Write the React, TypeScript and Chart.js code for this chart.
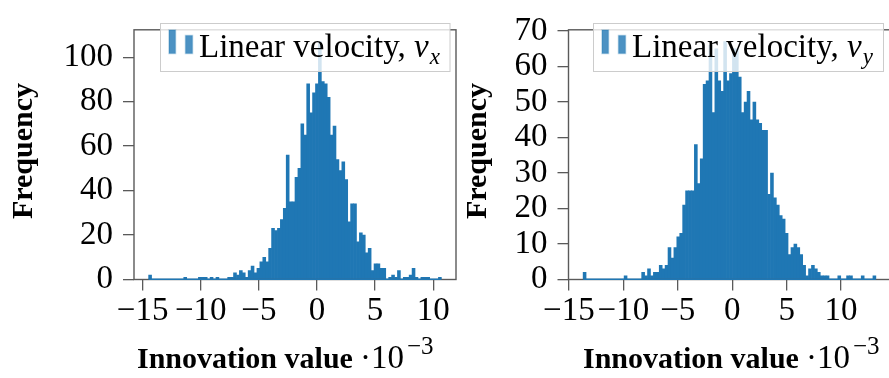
import React, { useEffect, useRef } from "react";
import { Chart, registerables } from "chart.js";

Chart.register(...registerables);

// ---------- data ----------
const VX_COUNTS = [
  2, 0, 0, 0, 0, 0, 0, 0, 0, 0,
  0, 0, 1, 0, 0, 0, 0, 1, 1, 1,
  0, 1, 0, 1, 0, 0, 0, 1, 1, 3,
  2, 4, 3, 1, 4, 6, 3, 5, 8, 10,
  8, 14, 23, 22, 23, 27, 32, 56, 35, 35,
  46, 50, 70, 65, 88, 75, 84, 88, 107, 89,
  88, 82, 65, 69, 54, 49, 53, 45, 26, 34,
  34, 17, 21, 20, 12, 14, 4, 7, 7, 5,
  5, 0, 1, 2, 1, 4, 0, 1, 1, 2,
  5, 1, 0, 1, 1, 1, 0, 0, 0, 1,
];
const VY_COUNTS = [
  2, 0, 0, 0, 0, 0, 0, 0, 0, 0,
  0, 0, 0, 0, 1, 0, 0, 0, 0, 0,
  2, 1, 3, 1, 2, 2, 4, 3, 4, 9,
  6, 9, 12, 13, 21, 25, 25, 25, 38, 27,
  34, 55, 56, 66, 47, 65, 56, 53, 67, 56,
  58, 65, 65, 57, 47, 50, 53, 45, 50, 45,
  44, 42, 42, 24, 30, 23, 21, 18, 17, 13,
  7, 9, 10, 9, 7, 4, 1, 3, 4, 3,
  2, 1, 1, 1, 0, 0, 0, 1, 0, 0,
  1, 1, 0, 0, 0, 1, 0, 0, 0, 1,
];
const VX_RANGE: [number, number] = [-14.48, 10.7];
const VY_RANGE: [number, number] = [-13.69, 13.19];
const X_TICKS = [-15, -10, -5, 0, 5, 10];
const VX_Y_TICKS = [0, 20, 40, 60, 80, 100];
const VY_Y_TICKS = [0, 10, 20, 30, 40, 50, 60, 70];
const Y_TITLE = "Frequency";
const X_TITLE = "Innovation value";
const X_SCALE_TEXT = "\u00b710";
const X_SCALE_EXP = "\u22123";
const LEGEND_TEXT = "Linear velocity, ";
const LEGEND_VAR = "v";
const VX_SUB = "x";
const VY_SUB = "y";

// ---------- styles / layout ----------
const FAMILY = '"Liberation Serif", "Times New Roman", serif';
const BLUE = "#1f77b4";
const AXIS = "#5a5a5a";
const W = 889;
const H = 378;
const PLOT_TOP = 17.5;
const PLOT_BOTTOM = 279.5;

type Spec = {
  counts: number[];
  range: [number, number];
  yTicks: number[];
  sub: string;
  canvasLeft: number;
  canvasWidth: number;
  plotLeft: number;
  plotRight: number;
  legend: [number, number, number, number];
  yTitleX: number;
  xTitleX: number;
};

const SPECS: Spec[] = [
  {
    counts: VX_COUNTS, range: VX_RANGE, yTicks: VX_Y_TICKS, sub: VX_SUB,
    canvasLeft: 0, canvasWidth: 462, plotLeft: 134, plotRight: 456,
    legend: [160.5, 23.5, 289.5, 48], yTitleX: 32, xTitleX: 137,
  },
  {
    counts: VY_COUNTS, range: VY_RANGE, yTicks: VY_Y_TICKS, sub: VY_SUB,
    canvasLeft: 462, canvasWidth: 436, plotLeft: 568.5, plotRight: 890.5,
    legend: [593.5, 23.5, 290, 48], yTitleX: 486, xTitleX: 583,
  },
];

const fmt = (v: number) => (v < 0 ? "\u2212" + Math.abs(v) : String(v));

function makeChart(canvas: HTMLCanvasElement, s: Spec) {
  const n = s.counts.length;
  const bw = (s.range[1] - s.range[0]) / n;
  const points = s.counts.map((c, i) => ({ x: s.range[0] + (i + 0.5) * bw, y: c }));
  const R = s.range[1] - s.range[0];
  const xMin = s.range[0] - 0.05 * R;
  const xMax = s.range[1] + 0.05 * R;
  const yMax = Math.max(...s.counts) * 1.05;
  const off = s.canvasLeft;

  const decor = {
    id: "decor" + off,
    afterDatasetsDraw(chart: any) {
      const { ctx, chartArea: a, scales } = chart;
      const x = scales.x;
      const y = scales.y;
      ctx.save();
      ctx.strokeStyle = AXIS;
      ctx.lineWidth = 1.4;
      ctx.strokeRect(a.left, a.top, a.right - a.left, a.bottom - a.top);
      const y0 = y.getPixelForValue(0);
      ctx.strokeStyle = BLUE;
      ctx.lineWidth = 1.4;
      ctx.beginPath();
      ctx.moveTo(x.getPixelForValue(s.range[0]), y0 - 0.3);
      ctx.lineTo(x.getPixelForValue(s.range[1]), y0 - 0.3);
      ctx.stroke();
      ctx.restore();
    },
    afterDraw(chart: any) {
      const { ctx } = chart;
      ctx.save();
      const [lx0, ly, lw, lh] = s.legend;
      const lx = lx0 - off;
      ctx.fillStyle = "rgba(255,255,255,0.8)";
      ctx.fillRect(lx, ly, lw, lh);
      ctx.strokeStyle = "#cccccc";
      ctx.lineWidth = 1;
      ctx.strokeRect(lx, ly, lw, lh);
      ctx.fillStyle = "rgba(31,119,180,0.8)";
      ctx.strokeStyle = "rgba(31,119,180,0.3)";
      ctx.lineWidth = 1.5;
      ctx.fillRect(lx + 8.5, ly + 6.5, 6.5, 23.5);
      ctx.strokeRect(lx + 8.5, ly + 6.5, 6.5, 23.5);
      ctx.fillRect(lx + 25, ly + 12, 7, 18);
      ctx.strokeRect(lx + 25, ly + 12, 7, 18);
      ctx.fillStyle = "#000";
      ctx.textBaseline = "alphabetic";
      ctx.textAlign = "left";
      let tx = lx + 38.5;
      const ty = ly + 33.5;
      ctx.font = `33px ${FAMILY}`;
      ctx.fillText(LEGEND_TEXT, tx, ty);
      tx += ctx.measureText(LEGEND_TEXT).width;
      ctx.font = `italic 33px ${FAMILY}`;
      ctx.fillText(LEGEND_VAR, tx, ty);
      tx += ctx.measureText(LEGEND_VAR).width + 1;
      ctx.font = `italic 23px ${FAMILY}`;
      ctx.fillText(s.sub, tx, ty + 6.5);

      ctx.save();
      ctx.translate(s.yTitleX - off, 151);
      ctx.rotate(-Math.PI / 2);
      ctx.font = `bold 30px ${FAMILY}`;
      ctx.textAlign = "center";
      ctx.fillText(Y_TITLE, 0, 0);
      ctx.restore();

      let xx = s.xTitleX - off;
      const xb = 368;
      ctx.font = `bold 30px ${FAMILY}`;
      ctx.fillText(X_TITLE, xx, xb);
      xx += ctx.measureText(X_TITLE).width + 7;
      ctx.font = `33px ${FAMILY}`;
      ctx.fillText(X_SCALE_TEXT, xx, xb);
      xx += ctx.measureText(X_SCALE_TEXT).width + 3;
      ctx.font = `25px ${FAMILY}`;
      ctx.fillText(X_SCALE_EXP, xx, xb - 14);
      ctx.restore();
    },
  };

  const tickFont = { family: FAMILY, size: 33 };
  const grid = {
    display: true,
    drawOnChartArea: false,
    drawTicks: true,
    tickLength: 11,
    color: AXIS,
    lineWidth: 1.3,
    offset: false,
  };

  return new Chart(canvas, {
    type: "bar",
    data: {
      datasets: [
        {
          data: points as any,
          backgroundColor: BLUE,
          borderWidth: 0,
          barPercentage: 1,
          categoryPercentage: 1,
        },
      ],
    },
    options: {
      animation: false,
      responsive: false,
      maintainAspectRatio: false,
      events: [],
      layout: {
        padding: {
          top: PLOT_TOP,
          left: 0,
          bottom: 0,
          right: s.canvasWidth - (s.plotRight - off),
        },
      },
      plugins: { legend: { display: false }, tooltip: { enabled: false } },
      scales: {
        x: {
          type: "linear",
          min: xMin,
          max: xMax,
          offset: false,
          grid: grid as any,
          border: { display: false },
          ticks: {
            font: tickFont,
            color: "#000",
            padding: 1,
            autoSkip: false,
            maxRotation: 0,
            callback: (v: any) => fmt(Number(v)),
          },
          afterBuildTicks: (sc: any) => {
            sc.ticks = X_TICKS.map((v) => ({ value: v }));
          },
          afterFit: (sc: any) => {
            sc.height = H - PLOT_BOTTOM;
          },
        },
        y: {
          type: "linear",
          min: 0,
          max: yMax,
          grid: grid as any,
          border: { display: false },
          ticks: {
            font: tickFont,
            color: "#000",
            padding: 10,
            autoSkip: false,
            callback: (v: any) => fmt(Number(v)),
          },
          afterBuildTicks: (sc: any) => {
            sc.ticks = s.yTicks.map((v) => ({ value: v }));
          },
          afterFit: (sc: any) => {
            sc.width = s.plotLeft - off;
          },
        },
      },
    } as any,
    plugins: [decor],
  });
}

function Hist({ spec }: { spec: Spec }) {
  const ref = useRef<HTMLCanvasElement | null>(null);
  useEffect(() => {
    if (!ref.current) return;
    const c = makeChart(ref.current, spec);
    return () => c.destroy();
  }, [spec]);
  return (
    <canvas
      ref={ref}
      width={spec.canvasWidth}
      height={H}
      style={{
        position: "absolute",
        left: spec.canvasLeft,
        top: 0,
        width: spec.canvasWidth,
        height: H,
      }}
    />
  );
}

export default function App() {
  return (
    <div
      style={{
        position: "absolute",
        left: 0,
        top: 0,
        width: W,
        height: H,
        overflow: "hidden",
        background: "#fff",
      }}
    >
      {SPECS.map((s, i) => (
        <Hist key={i} spec={s} />
      ))}
    </div>
  );
}
